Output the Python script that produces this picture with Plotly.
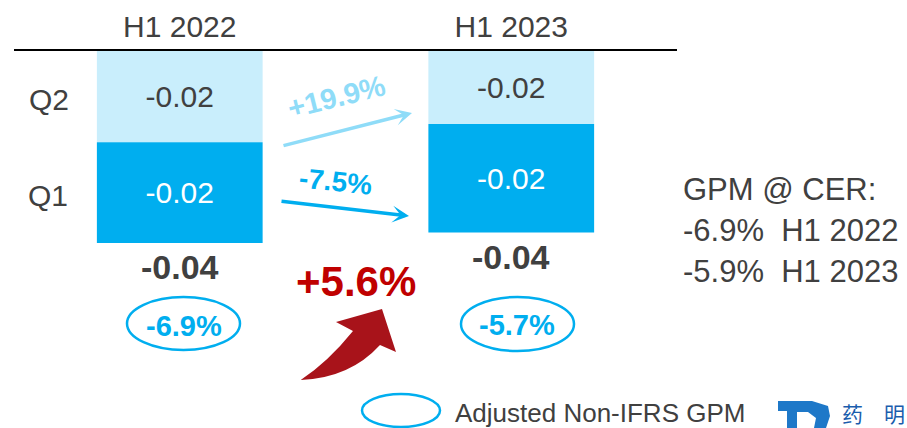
import plotly.graph_objects as go

# ---- data ----
periods = ["H1 2022", "H1 2023"]
q1_values = [-0.0211, -0.0227]
q2_values = [-0.0191, -0.0153]
gpm_labels = ["-6.9%", "-5.7%"]
q2_change = "+19.9%"
q1_change = "-7.5%"
total_change = "+5.6%"
cer_lines = ["GPM @ CER:", "-6.9%  H1 2022", "-5.9%  H1 2023"]
legend_label = "Adjusted Non-IFRS GPM"

totals = [a + b for a, b in zip(q1_values, q2_values)]

FONT = "Liberation Sans, Arial, sans-serif"
DARK = "#404040"
BLUE = "#00AEEF"
LIGHT = "#C9EEFC"
LIGHT_ARROW = "#8FDCF8"

W, H = 907, 428
L, R, T, B = 14, 230, 51, 0
PW, PH = W - L - R, H - T - B


def PX(px):
    return (px - L) / PW


def PY(py):
    return 1 - (py - T) / PH


def note(px, py, text, size, color, xanchor="center", **kw):
    return dict(x=PX(px), y=PY(py), xref="paper", yref="paper", text=text, showarrow=False,
                xanchor=xanchor, yanchor="middle", font=dict(size=size, color=color, family=FONT), **kw)


fig = go.Figure()
fig.add_trace(go.Bar(
    x=periods, y=q2_values, name="Q2", marker=dict(color=LIGHT, line=dict(width=0)),
    texttemplate="%{y:.2f}", textposition="inside", insidetextanchor="middle",
    textangle=0, textfont=dict(size=30, color=DARK, family=FONT),
))
fig.add_trace(go.Bar(
    x=periods, y=q1_values, name="Q1", marker=dict(color=BLUE, line=dict(width=0)),
    texttemplate="%{y:.2f}", textposition="inside", insidetextanchor="middle",
    textangle=0, textfont=dict(size=30, color="white", family=FONT),
))

ann = []
# totals below bars
for p, t in zip(periods, totals):
    ann.append(dict(x=p, y=t, xref="x", yref="y", text="<b>%.2f</b>" % t, showarrow=False,
                    xanchor="center", yanchor="middle",
                    yshift=-24, font=dict(size=34, color=DARK, family=FONT)))

# GPM ellipses with text
ell_px = [(127, 240, 297, 350, 184, 326), (461, 574, 297, 351, 517, 325)]
shapes = []
for (x0, x1, y0, y1, tx, ty), lab in zip(ell_px, gpm_labels):
    shapes.append(dict(type="circle", xref="paper", yref="paper", x0=PX(x0), x1=PX(x1),
                       y0=PY(y1), y1=PY(y0), line=dict(color=BLUE, width=2.5)))
    ann.append(note(tx, ty, "<b>%s</b>" % lab, 29, BLUE))

# Q labels
ann.append(note(49, 99, "Q2", 30, DARK))
ann.append(note(48, 195, "Q1", 30, DARK))

# arrows between bars
ann.append(dict(x=PX(412), y=PY(113), xref="paper", yref="paper", text="", showarrow=True,
                ax=282 - 412, ay=146 - 113, arrowhead=3, arrowsize=0.8, arrowwidth=3.5,
                arrowcolor=LIGHT_ARROW, standoff=0))
ann.append(dict(x=PX(409), y=PY(216), xref="paper", yref="paper", text="", showarrow=True,
                ax=280 - 409, ay=201 - 216, arrowhead=3, arrowsize=0.8, arrowwidth=3.5,
                arrowcolor=BLUE, standoff=0))
ann.append(note(336, 97, "<b>%s</b>" % q2_change, 29, LIGHT_ARROW, textangle=-14))
ann.append(note(335, 181, "<b>%s</b>" % q1_change, 28, BLUE, textangle=6))

# total change
ann.append(note(356, 281, "<b>%s</b>" % total_change, 42, "#C00000"))

# red curved arrow
pts = "M {},{} Q {},{} {},{} L {},{} L {},{} L {},{} L {},{} Q {},{} {},{} Z"
coords = [(300.7, 380), (350, 378), (380, 345), (396, 352), (382, 309), (336, 322),
          (353, 331), (328, 362), (300.7, 380)]
flat = []
for x, y in coords:
    flat += ["%.5f" % PX(x), "%.5f" % PY(y)]
shapes.append(dict(type="path", xref="paper", yref="paper", path=pts.format(*flat),
                   fillcolor="#A8131A", line=dict(width=0)))

# CER text
for i, line in enumerate(cer_lines):
    ann.append(note(681, 189 + 41 * i, line, 31, DARK, xanchor="left"))

# legend
shapes.append(dict(type="circle", xref="paper", yref="paper", x0=PX(362), x1=PX(440),
                   y0=PY(427), y1=PY(394), line=dict(color=BLUE, width=2.5)))
ann.append(note(453, 413, legend_label, 26, DARK, xanchor="left"))

# logo approximation
logo = [(778, 401), (812, 401), (828, 406), (830, 416), (826, 428), (814, 428), (816, 418),
        (808, 412), (797, 412), (797, 428), (787, 428), (787, 411), (778, 411)]
lp = "M " + " L ".join("%.5f,%.5f" % (PX(x), PY(y)) for x, y in logo) + " Z"
shapes.append(dict(type="path", xref="paper", yref="paper", path=lp, fillcolor="#1E78C8",
                   line=dict(width=0)))
cjk = dict(size=21, color="#1A5DAD", family="Noto Sans CJK SC")
ann.append(dict(x=PX(840), y=PY(413), xref="paper", yref="paper", text="药", showarrow=False,
                xanchor="left", yanchor="middle", font=cjk))
ann.append(dict(x=PX(882), y=PY(413), xref="paper", yref="paper", text="明", showarrow=False,
                xanchor="left", yanchor="middle", font=cjk))

fig.update_layout(
    width=W, height=H, margin=dict(l=L, r=R, t=T, b=B, autoexpand=False),
    barmode="relative", bargap=0.5, showlegend=False,
    plot_bgcolor="white", paper_bgcolor="white",
    annotations=ann, shapes=shapes,
    font=dict(family=FONT, color=DARK),
    xaxis=dict(type="category", side="top", range=[-0.5, 1.5], showline=True, linecolor="black",
               linewidth=2, showgrid=False, ticks="", automargin=False,
               tickfont=dict(size=30, color=DARK, family=FONT), zeroline=False),
    yaxis=dict(range=[-0.0789, 0], visible=False, showgrid=False, zeroline=False, automargin=False),
)

fig.write_html("out.html", config={"displayModeBar": False},
               post_script="document.body.style.margin='0';")
